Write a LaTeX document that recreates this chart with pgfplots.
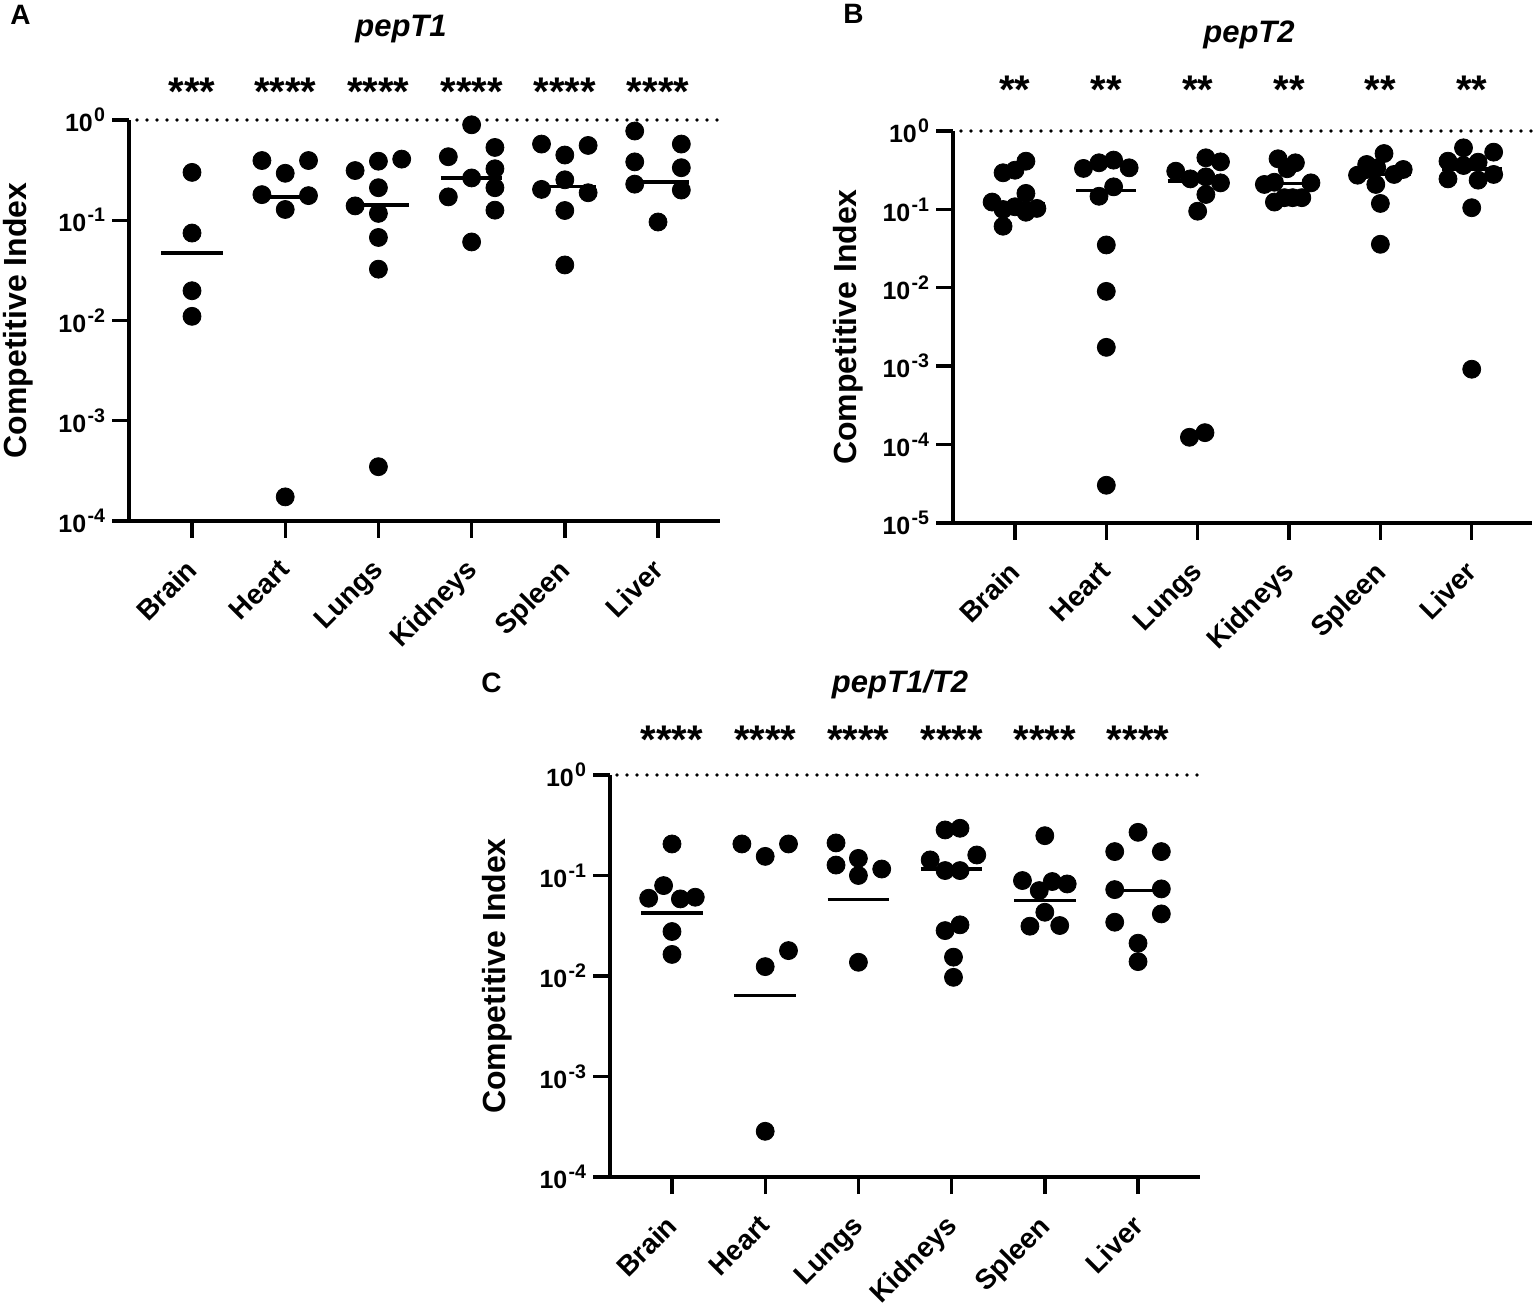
\documentclass[border=0pt]{standalone}
\usepackage{fontspec}
\setmainfont{Liberation Sans}
\usepackage{pgfplots}
\pgfplotsset{compat=1.18}

\newcommand{\tp}[1]{10\kern0.6pt\raisebox{5pt}{\fontsize{9.8}{9.8}\selectfont #1}}
\newcommand{\ylab}{\fontsize{16}{16}\selectfont\bfseries}

\pgfplotsset{
  mycommon/.style={
    scale only axis, clip=false,
    axis lines*=left,
    axis line style={line width=1.7pt, -},
    every tick/.style={line width=1.7pt, black},
    major tick length=8.5pt,
    tick align=outside,
    xtick={0,...,5},
    xticklabels={Brain,Heart,Lungs,Kidneys,Spleen,Liver},
    xticklabel style={xshift=-3.75pt, yshift=-4.8pt, rotate=45, anchor=north east, font=\fontsize{14}{14}\selectfont\bfseries},
    yticklabel style={font=\fontsize{12.5}{12.5}\selectfont\bfseries},
    yminorticks=false,
  },
}
\tikzset{
  mydots/.style={only marks, mark=*, mark size=4.5pt, mark options={fill=black, draw=black}},
  mymed/.style={black, line width=1.8pt},
  myref/.style={black, line width=1.9pt, line cap=round, dash pattern=on 0pt off 5pt},
  mystars/.style={font=\fontsize{20}{20}\selectfont\bfseries, anchor=base},
  myletter/.style={anchor=base west, inner sep=0pt, font=\fontsize{14}{14}\selectfont\bfseries},
  mytitle/.style={anchor=base, inner sep=0pt, font=\fontsize{15.5}{15.5}\selectfont\bfseries\itshape},
}

\begin{document}
\begin{tikzpicture}
\useasboundingbox (0,0) rectangle (767.5pt,652.5pt);

% ---------------- Panel A ----------------
\node[myletter] at (5pt,640pt) {A};
\node[mytitle] at (200.5pt,634pt) {pepT1};
\begin{axis}[ymode=log, mycommon, at={(64.5pt,392pt)}, anchor=south west, width=295.5pt, height=200.5pt,
  xmin=-0.676, xmax=5.665, ymin=1e-4, ymax=1,
  ytick={1e-4,1e-3,1e-2,1e-1,1},
  yticklabels={\tp{-4},\tp{-3},\tp{-2},\tp{-1},\tp{0}},
  ylabel={Competitive Index},
  ylabel style={font=\ylab, at={([xshift=-55.5pt]axis description cs:0,0.5)}, anchor=center},
]
\addplot[myref] coordinates {(-0.59,1) (5.665,1)};
\addplot[mydots] table {
0 0.30
0 0.0745
0 0.0198
0 0.011
0.75 0.394
1.25 0.394
1 0.294
0.75 0.18
1.25 0.176
1 0.128
1 0.000174
2.25 0.407
2 0.388
1.75 0.313
2 0.211
1.75 0.139
2 0.117
2 0.0673
2 0.0325
2 0.000348
3 0.895
3.25 0.532
2.75 0.43
3.25 0.326
3 0.264
3.25 0.211
2.75 0.171
3.25 0.126
3 0.0607
3.75 0.575
4.25 0.557
4 0.447
4 0.253
3.75 0.203
4.25 0.188
4 0.125
4 0.0358
4.75 0.776
5.25 0.575
4.75 0.382
5.25 0.334
4.75 0.229
5.25 0.2
5 0.096
};
\addplot[mymed] coordinates {(-0.33,0.047) (0.33,0.047)};
\addplot[mymed] coordinates {(0.67,0.171) (1.33,0.171)};
\addplot[mymed] coordinates {(1.67,0.142) (2.33,0.142)};
\addplot[mymed] coordinates {(2.67,0.263) (3.33,0.263)};
\addplot[mymed] coordinates {(3.67,0.216) (4.33,0.216)};
\addplot[mymed] coordinates {(4.67,0.241) (5.33,0.241)};
\node[mystars, yshift=7pt] at (axis cs:0,1) {***};
\node[mystars, yshift=7pt] at (axis cs:1,1) {****};
\node[mystars, yshift=7pt] at (axis cs:2,1) {****};
\node[mystars, yshift=7pt] at (axis cs:3,1) {****};
\node[mystars, yshift=7pt] at (axis cs:4,1) {****};
\node[mystars, yshift=7pt] at (axis cs:5,1) {****};
\end{axis}

% ---------------- Panel B ----------------
\node[myletter] at (421.5pt,640.5pt) {B};
\node[mytitle] at (624.5pt,631pt) {pepT2};
\begin{axis}[ymode=log, mycommon, at={(476.5pt,391pt)}, anchor=south west, width=289.5pt, height=196pt,
  xmin=-0.678, xmax=5.66, ymin=1e-5, ymax=1,
  ytick={1e-5,1e-4,1e-3,1e-2,1e-1,1},
  yticklabels={\tp{-5},\tp{-4},\tp{-3},\tp{-2},\tp{-1},\tp{0}},
  ylabel={Competitive Index},
  ylabel style={font=\ylab, at={([xshift=-52.5pt]axis description cs:0,0.5)}, anchor=center},
]
\addplot[myref] coordinates {(-0.59,1) (5.66,1)};
\addplot[mydots] table {
0.12 0.412
0 0.316
-0.13 0.293
-0.25 0.124
0.12 0.16
-0.13 0.0997
0 0.108
0.12 0.092
0.24 0.103
-0.13 0.061
0.75 0.333
0.92 0.393
1.08 0.425
1.25 0.339
1.08 0.194
0.92 0.147
1 0.0352
1 0.009
1 0.00174
1 0.0000303
2.09 0.455
2.25 0.404
1.76 0.307
1.92 0.245
2.09 0.26
2.25 0.218
2.09 0.155
2 0.0948
1.91 0.000124
2.08 0.000142
2.88 0.442
3.07 0.393
2.98 0.33
2.73 0.208
2.84 0.222
3.24 0.218
2.84 0.124
2.95 0.141
3.04 0.141
3.14 0.141
4.04 0.516
3.85 0.374
3.75 0.273
3.85 0.323
3.96 0.339
4.15 0.279
4.25 0.323
3.95 0.208
4 0.119
4 0.0359
4.91 0.61
5.24 0.537
4.74 0.412
4.91 0.363
5.07 0.4
4.74 0.245
5.07 0.236
5.24 0.279
5 0.105
5 0.000915
};
\addplot[mymed] coordinates {(-0.33,0.117) (0.33,0.117)};
\addplot[mymed] coordinates {(0.67,0.174) (1.33,0.174)};
\addplot[mymed] coordinates {(1.67,0.229) (2.33,0.229)};
\addplot[mymed] coordinates {(2.67,0.214) (3.33,0.214)};
\addplot[mymed] coordinates {(3.67,0.279) (4.33,0.279)};
\addplot[mymed] coordinates {(4.67,0.33) (5.33,0.33)};
\node[mystars, yshift=13.5pt] at (axis cs:0,1) {**};
\node[mystars, yshift=13.5pt] at (axis cs:1,1) {**};
\node[mystars, yshift=13.5pt] at (axis cs:2,1) {**};
\node[mystars, yshift=13.5pt] at (axis cs:3,1) {**};
\node[mystars, yshift=13.5pt] at (axis cs:4,1) {**};
\node[mystars, yshift=13.5pt] at (axis cs:5,1) {**};
\end{axis}

% ---------------- Panel C ----------------
\node[myletter] at (240.5pt,306pt) {C};
\node[mytitle] at (450pt,306pt) {pepT1/T2};
\begin{axis}[ymode=log, mycommon, at={(305pt,64pt)}, anchor=south west, width=295pt, height=201pt,
  xmin=-0.665, xmax=5.665, ymin=1e-4, ymax=1,
  ytick={1e-4,1e-3,1e-2,1e-1,1},
  yticklabels={\tp{-4},\tp{-3},\tp{-2},\tp{-1},\tp{0}},
  ylabel={Competitive Index},
  ylabel style={font=\ylab, at={([xshift=-56.5pt]axis description cs:0,0.5)}, anchor=center},
]
\addplot[myref] coordinates {(-0.59,1) (5.665,1)};
\addplot[mydots] table {
0 0.206
-0.09 0.0794
-0.25 0.0594
0.09 0.0585
0.25 0.0608
0 0.0277
0 0.0164
0.75 0.206
1.25 0.206
1 0.155
1.25 0.0179
1 0.0124
1 0.000285
1.76 0.211
2 0.148
1.76 0.127
2.25 0.116
2 0.1
2 0.0137
2.93 0.284
3.09 0.295
2.77 0.143
3.27 0.16
2.93 0.112
3.09 0.112
3.09 0.0323
2.93 0.0283
3.02 0.0154
3.02 0.0097
4 0.249
3.76 0.0891
4.08 0.0871
4.24 0.0824
3.94 0.0708
4 0.0431
3.84 0.0313
4.16 0.0318
5 0.269
4.75 0.173
5.25 0.173
4.75 0.0724
5.25 0.0736
5.25 0.0415
4.75 0.0343
5 0.0212
5 0.0139
};
\addplot[mymed] coordinates {(-0.33,0.0425) (0.33,0.0425)};
\addplot[mymed] coordinates {(0.67,0.0064) (1.33,0.0064)};
\addplot[mymed] coordinates {(1.67,0.0576) (2.33,0.0576)};
\addplot[mymed] coordinates {(2.67,0.116) (3.33,0.116)};
\addplot[mymed] coordinates {(3.67,0.0563) (4.33,0.0563)};
\addplot[mymed] coordinates {(4.67,0.0708) (5.33,0.0708)};
\node[mystars, yshift=11pt] at (axis cs:0,1) {****};
\node[mystars, yshift=11pt] at (axis cs:1,1) {****};
\node[mystars, yshift=11pt] at (axis cs:2,1) {****};
\node[mystars, yshift=11pt] at (axis cs:3,1) {****};
\node[mystars, yshift=11pt] at (axis cs:4,1) {****};
\node[mystars, yshift=11pt] at (axis cs:5,1) {****};
\end{axis}
\end{tikzpicture}
\end{document}
